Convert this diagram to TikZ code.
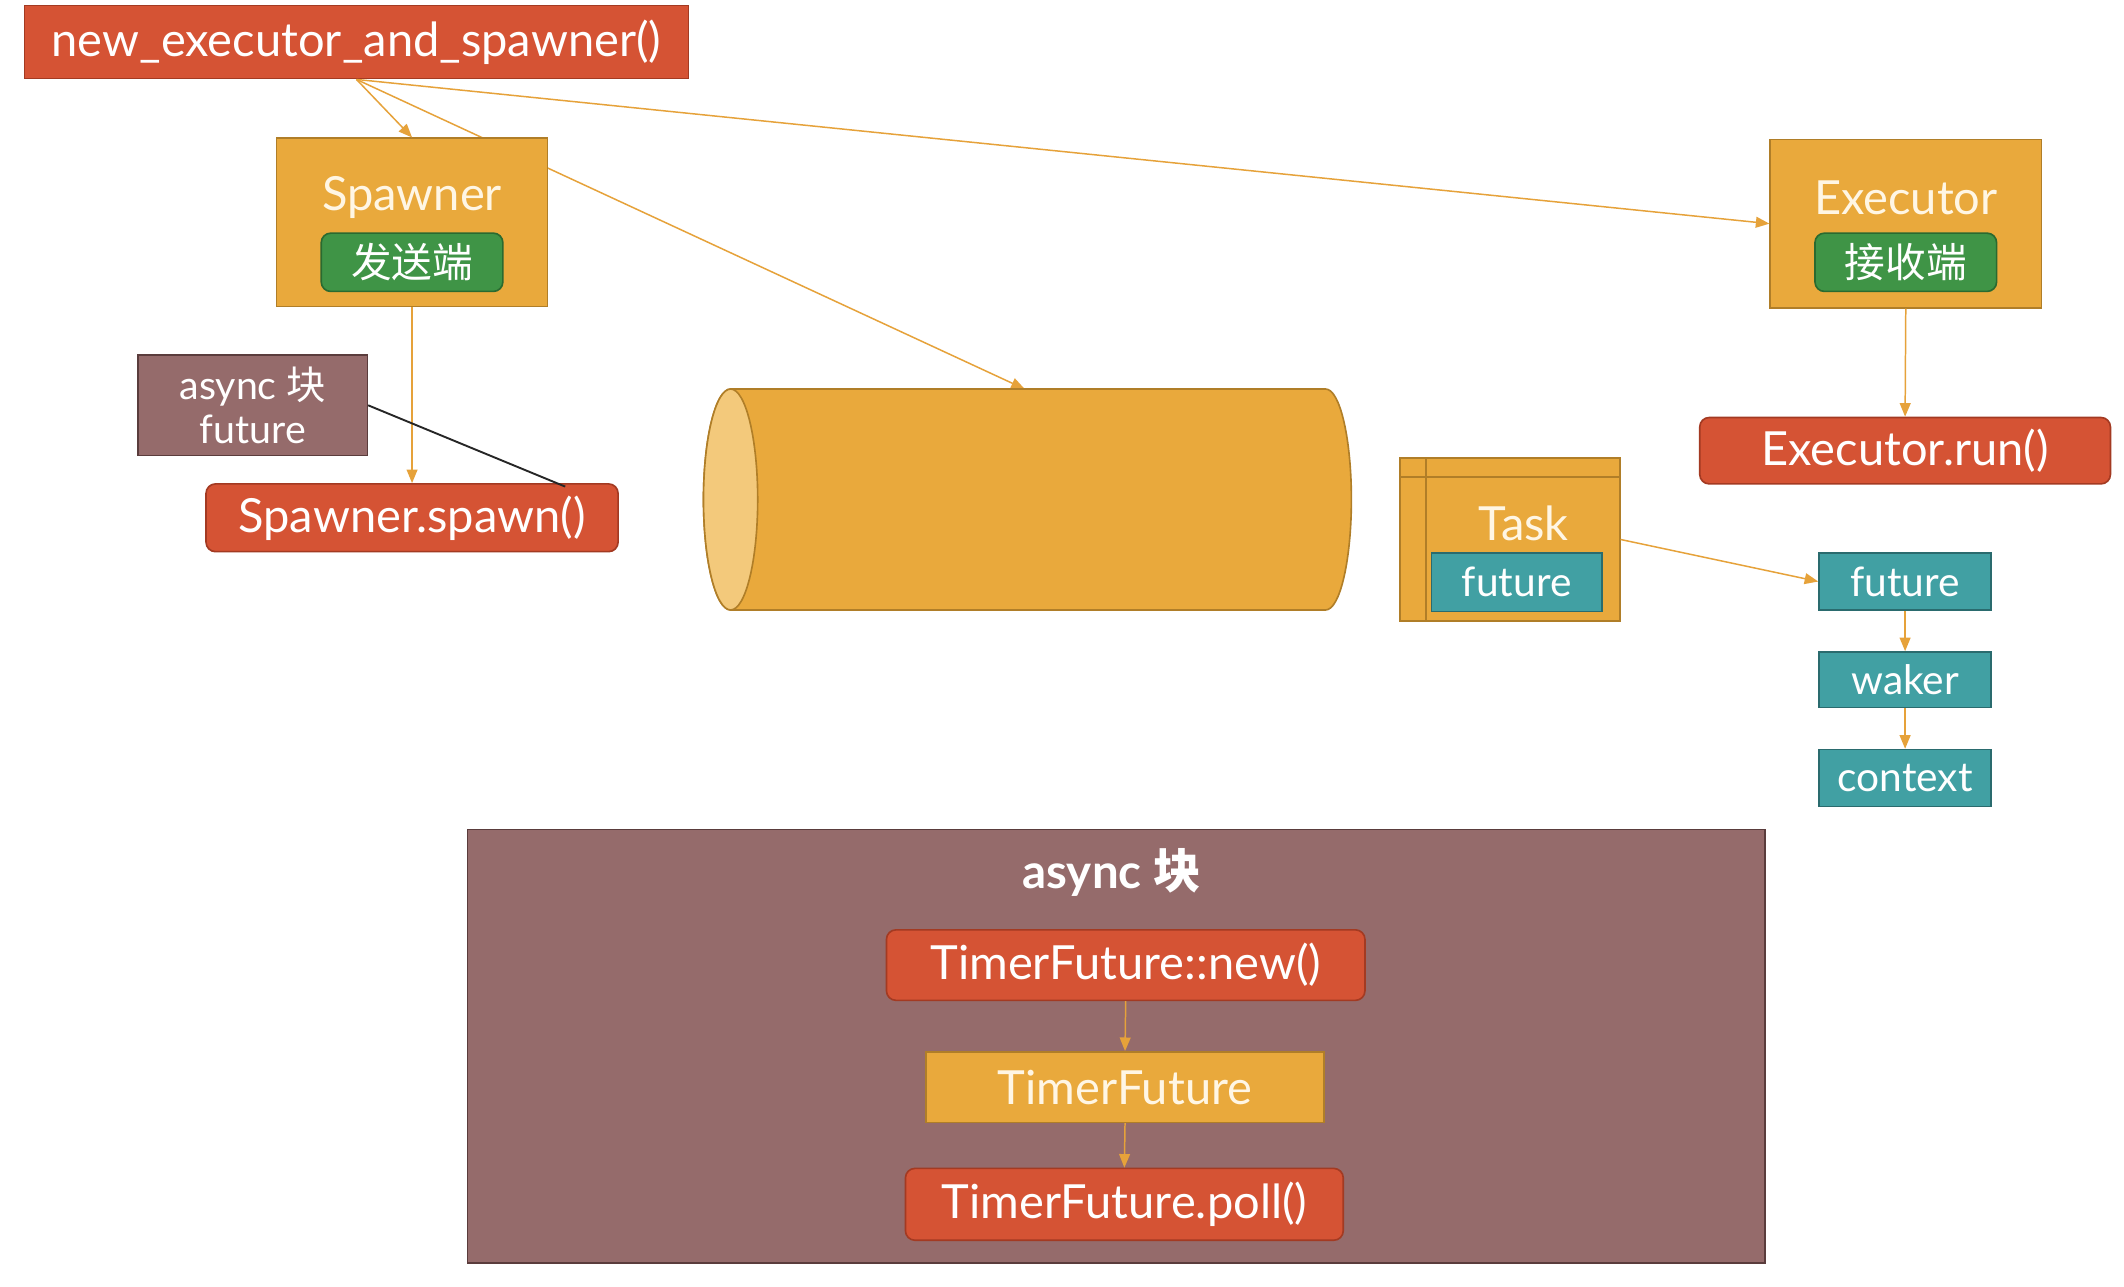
\documentclass[tikz,border=0pt]{standalone}
\usepackage{fontspec}
\setmainfont{Lato}
\newfontfamily\cjk{Noto Sans CJK SC}
\usetikzlibrary{arrows.meta}
\pgfdeclarelayer{bg}
\pgfdeclarelayer{background}
\pgfsetlayers{bg,background,main}
\definecolor{redf}{HTML}{D55334}
\definecolor{redb}{HTML}{A33A22}
\definecolor{orf}{HTML}{E9A93C}
\definecolor{orb}{HTML}{B07E28}
\definecolor{orlight}{HTML}{F3C97B}
\definecolor{grf}{HTML}{3F9446}
\definecolor{grb}{HTML}{2A6A30}
\definecolor{tef}{HTML}{41A0A3}
\definecolor{teb}{HTML}{2A6B6E}
\definecolor{maf}{HTML}{956B6B}
\definecolor{mab}{HTML}{5A3C3C}
\definecolor{arr}{HTML}{E6A23A}
\definecolor{cream}{HTML}{FFF6E4}
\tikzset{
  box/.style={inner sep=0pt, line width=1.2pt, text=white},
  redbox/.style={box, fill=redf, draw=redb},
  redround/.style={redbox, rounded corners=7pt},
  orbox/.style={box, fill=orf, draw=orb, text=cream},
  grbox/.style={box, fill=grf, draw=grb, rounded corners=7pt},
  tebox/.style={box, fill=tef, draw=teb},
  mabox/.style={box, fill=maf, draw=mab},
  lbl/.style={inner sep=0pt, text=cream},
  big/.style={font=\fontsize{34.7}{40}\selectfont},
  mid/.style={font=\fontsize{30}{34}\selectfont},
  conn/.style={draw=arr, line width=1.1pt, -{Triangle[length=10pt,width=8pt]}},
}
\begin{document}
\begin{tikzpicture}[x=1pt,y=-1pt]
\begin{pgfonlayer}{bg}
\path[use as bounding box, fill=white] (0,0) rectangle (1567,948.8);
\end{pgfonlayer}

% top
\node[redbox, big, minimum width=490pt, minimum height=54pt] (nex) at (263,31) {new\_executor\_and\_spawner()};

% spawner
\node[orbox, minimum width=200pt, minimum height=124pt] (spawner) at (304,164) {};
\node[lbl, big] (spawnerlbl) at (304,146) {Spawner};
\node[grbox, minimum width=134pt, minimum height=43pt, font=\cjk\fontsize{30}{36}\selectfont] (send) at (304,193.5) {发送端};

% executor
\node[orbox, minimum width=200pt, minimum height=124pt] (executor) at (1406,165) {};
\node[lbl, big] (executorlbl) at (1406,146) {Executor};
\node[grbox, minimum width=134pt, minimum height=43pt, font=\cjk\fontsize{30}{36}\selectfont] (recv) at (1406,193.5) {接收端};

% async small
\node[mabox, font=\fontsize{29}{34}\selectfont, minimum width=169pt, minimum height=74pt, align=center] (asyncsmall) at (186.5,299) {async {\cjk 块}\\[-1pt]future};

% spawn
\node[redround, big, minimum width=304pt, minimum height=50pt] (spawn) at (304,382) {Spawner.spawn()};

% executor run
\node[redround, big, minimum width=303pt, minimum height=49pt] (exrun) at (1405.5,332.5) {Executor.run()};

% cylinder
\filldraw[fill=orf, draw=orb, line width=1.2pt]
  (539,287) -- (978,287) arc[start angle=-90, end angle=90, x radius=19, y radius=81.5]
  -- (539,450) arc[start angle=90, end angle=270, x radius=20, y radius=81.5] -- cycle;
\filldraw[fill=orlight, draw=orb, line width=1.2pt] (539,368.5) ellipse[x radius=20, y radius=81.5];
\coordinate (cyltop) at (756,287);

% task
\node[orbox, minimum width=162pt, minimum height=120pt] (task) at (1114,398) {};
\draw[orb, line width=1.2pt] (1033,352) -- (1195,352);
\draw[orb, line width=1.2pt] (1052,338) -- (1052,458);
\node[lbl, big] (tasklbl) at (1124,386) {Task};
\node[tebox, mid, minimum width=126pt, minimum height=43pt] (taskfut) at (1119,429.5) {future};

% right chain
\node[tebox, mid, minimum width=127pt, minimum height=42pt] (fut) at (1405.5,429) {future};
\node[tebox, mid, minimum width=127pt, minimum height=41pt] (waker) at (1405.5,501.5) {waker};
\node[tebox, mid, minimum width=127pt, minimum height=42pt] (context) at (1405.5,574) {context};

% big async block
\node[mabox, minimum width=957pt, minimum height=320pt] (asyncbig) at (823.5,772) {};
\node[inner sep=0pt, text=white, font=\bfseries\fontsize{35}{40}\selectfont] (asynctitle) at (820,644) {async {\cjk\bfseries 块}};
\node[redround, big, minimum width=353pt, minimum height=52pt] (tfnew) at (830.5,712) {TimerFuture::new()};
\node[orbox, big, minimum width=294pt, minimum height=52pt] (tf) at (830,802) {TimerFuture};
\node[redround, big, minimum width=323pt, minimum height=53pt] (tfpoll) at (829.5,888.5) {TimerFuture.poll()};

\coordinate (spawntouch) at (417,359);

% connectors
\begin{pgfonlayer}{background}
\draw[conn] (nex.south) -- (cyltop);
\end{pgfonlayer}
\draw[conn] (nex.south) -- (spawner.north);
\draw[conn] (nex.south) -- (executor.west);
\draw[conn] (spawner.south) -- (spawn.north);
\draw[conn] (executor.south) -- (exrun.north);
\draw[conn] (task.east) -- (fut.west);
\draw[conn] (fut.south) -- (waker.north);
\draw[conn] (waker.south) -- (context.north);
\draw[conn] (tfnew.south) -- (tf.north);
\draw[conn] (tf.south) -- (tfpoll.north);
\draw[black!85, line width=1.4pt] (asyncsmall.east) -- (spawntouch);
\end{tikzpicture}
\end{document}
